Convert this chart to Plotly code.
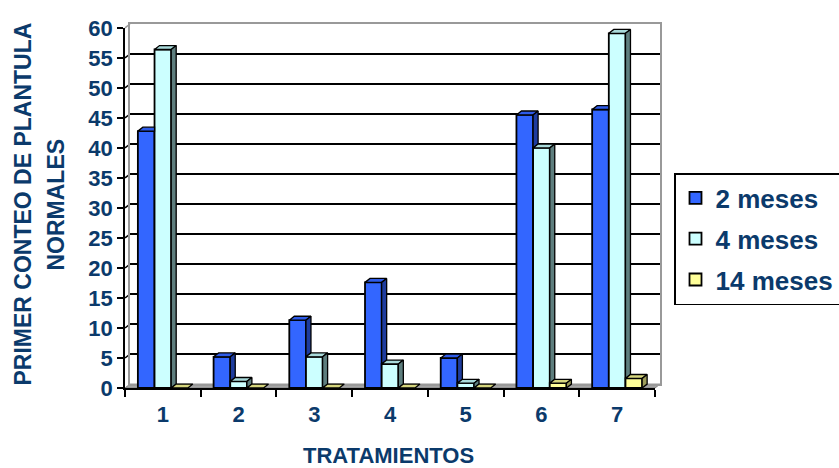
import plotly.graph_objects as go

# ---------------- data ----------------
categories = [1, 2, 3, 4, 5, 6, 7]
series_names = ["2 meses", "4 meses", "14 meses"]
meses_2 = [42.8, 5.2, 11.3, 17.6, 5.0, 45.5, 46.4]
meses_4 = [56.4, 1.1, 5.2, 4.0, 0.8, 40.0, 59.1]
meses_14 = [0.0, 0.0, 0.0, 0.0, 0.0, 0.8, 1.6]
y_ticks = [0, 5, 10, 15, 20, 25, 30, 35, 40, 45, 50, 55, 60]

series_values = [meses_2, meses_4, meses_14]

# ---------------- style ----------------
W, H = 839, 468
PL, PR, PT, PB = 125, 660, 15, 388          # full plot area (pixels)
FRONT_R, FRONT_T = 655, 19                   # front axes box
DXP, DYP = 5, 4                              # 3D depth in pixels
NAVY = "#0B3A6B"
FONT = "Liberation Sans, Arial, sans-serif"

front_colors = ["#3366FF", "#CCFFFF", "#FFFF99"]
top_colors = ["#2E5BE8", "#A9DADA", "#D6D67E"]
side_colors = ["#1E3C9E", "#5E7E7E", "#9C9C5A"]

bar_w = 0.22
offsets = [-0.33, -0.11, 0.11]

x_range = [0.5, 7.5]
y_range = [0, 60]
px_per_x = (FRONT_R - PL) / (x_range[1] - x_range[0])
px_per_y = (PB - FRONT_T) / (y_range[1] - y_range[0])
dx = DXP / px_per_x
dy = DYP / px_per_y

pw = PR - PL
ph = PB - PT


def paper_x(px):
    return (px - PL) / pw


def paper_y(py):
    return (PB - py) / ph


fig = go.Figure()

# invisible trace so the back-wall subplot (x, y) is drawn
fig.add_trace(go.Scatter(x=[None], y=[None], mode="lines", showlegend=False,
                         hoverinfo="skip", xaxis="x", yaxis="y"))

# front faces (bars)
for i, (name, vals) in enumerate(zip(series_names, series_values)):
    fig.add_trace(go.Bar(
        x=categories, y=vals, name=f"<b>{name}</b>", width=bar_w,
        offset=offsets[i],
        marker=dict(color=front_colors[i], line=dict(color="black", width=1.8)),
        xaxis="x2", yaxis="y2", legendgroup=name, hoverinfo="x+y",
    ))

# 3D top and side faces derived from the data
for i, vals in enumerate(series_values):
    nxt = series_values[i + 1] if i + 1 < len(series_values) else [0] * len(vals)
    tx, ty, sx, sy = [], [], [], []
    for j, cat in enumerate(categories):
        v = vals[j]
        c = nxt[j]
        L = cat + offsets[i]
        R = L + bar_w
        if i + 1 < len(series_values) and c > v:
            tx += [L, R, R, L + dx, L, None]
            ty += [v, v, v + dy, v + dy, v, None]
        else:
            tx += [L, R, R + dx, L + dx, L, None]
            ty += [v, v, v + dy, v + dy, v, None]
        if c < v:
            sx += [R, R, R + dx, R + dx, R, None]
            sy += [c, v, v + dy, c + dy, c, None]
    fig.add_trace(go.Scatter(x=tx, y=ty, mode="lines", fill="toself",
                             fillcolor=top_colors[i],
                             line=dict(color="black", width=1.3),
                             xaxis="x2", yaxis="y2", showlegend=False,
                             hoverinfo="skip"))
    if sx:
        fig.add_trace(go.Scatter(x=sx, y=sy, mode="lines", fill="toself",
                                 fillcolor=side_colors[i],
                                 line=dict(color="black", width=1.3),
                                 xaxis="x2", yaxis="y2", showlegend=False,
                                 hoverinfo="skip"))

shapes = []
# floor
fx0, fx1 = paper_x(PL), paper_x(FRONT_R)
bx0, bx1 = paper_x(PL + DXP), paper_x(FRONT_R + DXP)
fy, by = paper_y(PB), paper_y(PB - DYP)
shapes.append(dict(type="path", xref="paper", yref="paper", layer="below",
                   path=f"M{fx0},{fy} L{fx1},{fy} L{bx1},{by} L{bx0},{by} Z",
                   fillcolor="#A6A6A6", line=dict(color="#808080", width=1)))
# left side-wall grid lines
for t in y_ticks[1:-1]:
    py = PB - t * px_per_y
    shapes.append(dict(type="line", xref="paper", yref="paper", layer="below",
                       x0=paper_x(PL), y0=paper_y(py),
                       x1=paper_x(PL + DXP), y1=paper_y(py - DYP),
                       line=dict(color="black", width=1.5)))
# left wall top edge
shapes.append(dict(type="line", xref="paper", yref="paper", layer="below",
                   x0=paper_x(PL), y0=paper_y(FRONT_T),
                   x1=paper_x(PL + DXP), y1=paper_y(FRONT_T - DYP),
                   line=dict(color="#999999", width=1.5)))

annotations = [
    dict(text="<b>PRIMER CONTEO DE PLANTULA</b>", xref="paper", yref="paper",
         x=paper_x(23), y=paper_y(200), textangle=-90, showarrow=False,
         xanchor="center", yanchor="middle",
         font=dict(family=FONT, size=23, color=NAVY)),
    dict(text="<b>NORMALES</b>", xref="paper", yref="paper",
         x=paper_x(56), y=paper_y(200), textangle=-90, showarrow=False,
         xanchor="center", yanchor="middle",
         font=dict(family=FONT, size=23, color=NAVY)),
    dict(text="<b>TRATAMIENTOS</b>", xref="paper", yref="paper",
         x=paper_x(388), y=paper_y(457), showarrow=False,
         xanchor="center", yanchor="middle",
         font=dict(family=FONT, size=22, color=NAVY)),
]

tickfont = dict(family=FONT, size=22, color=NAVY)

fig.update_layout(
    width=W, height=H,
    margin=dict(l=PL, r=W - PR, t=PT, b=H - PB, pad=0),
    paper_bgcolor="white", plot_bgcolor="rgba(0,0,0,0)",
    barmode="overlay",
    shapes=shapes, annotations=annotations,
    font=dict(family=FONT, color=NAVY),
    # back wall
    xaxis=dict(domain=[paper_x(PL + DXP), 1], range=x_range, showgrid=False,
               showticklabels=False, ticks="", zeroline=False,
               showline=True, mirror=True, linecolor="#999999", linewidth=2,
               fixedrange=True),
    yaxis=dict(domain=[paper_y(PB - DYP), 1], range=y_range,
               tickvals=y_ticks[1:-1], showgrid=True, gridcolor="black",
               gridwidth=1.7, showticklabels=False, ticks="", zeroline=False,
               showline=True, mirror=True, linecolor="#999999", linewidth=2,
               fixedrange=True),
    # front axes
    xaxis2=dict(domain=[0, paper_x(FRONT_R)], range=x_range, anchor="y2",
                tickvals=categories, ticktext=[f"<b>{c}</b>" for c in categories],
                ticks="", showgrid=False, zeroline=False,
                showline=True, linecolor="black", linewidth=1.5,
                tickfont=tickfont, ticklabelstandoff=6,
                minor=dict(tickvals=[c + 0.5 for c in [0] + categories],
                           ticks="outside", ticklen=7, tickwidth=1.5,
                           tickcolor="black", showgrid=False),
                fixedrange=True),
    yaxis2=dict(domain=[0, paper_y(FRONT_T)], range=y_range, anchor="x2",
                tickvals=y_ticks, ticktext=[f"<b>{t}</b>" for t in y_ticks],
                ticks="outside", ticklen=6, tickwidth=1.5, tickcolor="black",
                showgrid=False, zeroline=False,
                showline=True, linecolor="black", linewidth=1.5,
                tickfont=tickfont, fixedrange=True),
    legend=dict(xref="container", yref="container", x=674 / W,
                y=1 - 173 / H, xanchor="left", yanchor="top",
                bgcolor="white", bordercolor="black", borderwidth=1.5,
                font=dict(family=FONT, size=26, color=NAVY),
                tracegroupgap=4, itemwidth=30),
    showlegend=True,
)

fig.write_html("out.html")
